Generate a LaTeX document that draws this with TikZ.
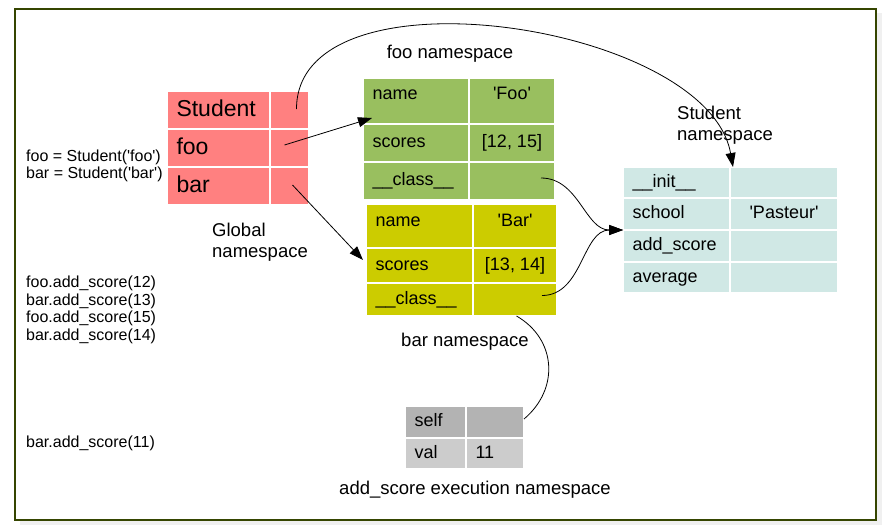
\documentclass[tikz,border=0pt]{standalone}
\usepackage{fontspec}
\setmainfont{Liberation Sans}
\usetikzlibrary{arrows.meta, positioning}

\definecolor{globred}{HTML}{FF8080}
\definecolor{foogreen}{HTML}{99BF5F}
\definecolor{baryellow}{HTML}{CCCC00}
\definecolor{classcyan}{HTML}{D0E8E5}
\definecolor{selfgray}{HTML}{B3B3B3}
\definecolor{valgray}{HTML}{CCCCCC}
\definecolor{frameolive}{HTML}{354500}

\newcommand{\sq}[1]{\textquotesingle#1\textquotesingle}

\begin{document}
\begin{tikzpicture}[
    x=1pt, y=-1pt,
    cell/.style={draw=white, line width=1pt, inner xsep=9pt, inner ysep=0pt,
        text height=13pt, text depth=4pt, font=\fontsize{18}{21}\selectfont},
    key/.style={cell, minimum width=#1, text width=#1-18pt, align=left},
    val/.style={cell, minimum width=#1, align=center},
    glob/.style={fill=globred, minimum height=37pt, text height=17pt, text depth=5pt,
        font=\fontsize{23}{26}\selectfont},
    foons/.style={fill=foogreen, minimum height=#1},
    barns/.style={fill=baryellow, minimum height=#1},
    classns/.style={fill=classcyan, minimum height=#1},
    toprow/.style={text depth=#1},
    lbl/.style={inner sep=0pt, align=left, font=\fontsize{18.5}{21}\selectfont},
    code/.style={inner sep=0pt, anchor=west, align=left, font=\fontsize{16}{17.5}\selectfont},
    link/.style={-{Triangle[length=14pt, width=10pt]}, line width=0.8pt},
    plain/.style={line width=0.8pt}
]
\useasboundingbox (0,0) rectangle (886,528);

% Frame with its shadow
\fill[black!6] (20,13) rectangle (882,525);
\draw[frameolive, line width=1.3pt, fill=white] (15,9) rectangle (876,520);

% Global namespace
\node[key=102pt, glob, anchor=north west] (stuk) at (167,91) {Student};
\node[val=38pt, glob, right=0pt of stuk] (stuv) {};
\node[key=102pt, glob, below=0pt of stuk] (fook) {foo};
\node[val=38pt, glob, right=0pt of fook] (foov) {};
\node[key=102pt, glob, below=0pt of fook] (bark) {bar};
\node[val=38pt, glob, right=0pt of bark] (barv) {};

% foo namespace
\node[key=105pt, foons=45pt, toprow=16pt, anchor=north west] (fnamek) at (363,78) {name};
\node[val=85pt, foons=45pt, toprow=16pt, right=0pt of fnamek] (fnamev) {\sq{Foo}};
\node[key=105pt, foons=37pt, below=0pt of fnamek] (fscok) {scores};
\node[val=85pt, foons=37pt, right=0pt of fscok] (fscov) {[12, 15]};
\node[key=105pt, foons=37pt, below=0pt of fscok] (fclsk) {\_\_class\_\_};
\node[val=85pt, foons=37pt, right=0pt of fclsk] (fclsv) {};

% bar namespace
\node[key=106pt, barns=43pt, toprow=13pt, anchor=north west] (bnamek) at (366,204) {name};
\node[val=83pt, barns=43pt, toprow=13pt, right=0pt of bnamek] (bnamev) {\sq{Bar}};
\node[key=106pt, barns=34pt, below=0pt of bnamek] (bscok) {scores};
\node[val=83pt, barns=34pt, right=0pt of bscok] (bscov) {[13, 14]};
\node[key=106pt, barns=32pt, below=0pt of bscok] (bclsk) {\_\_class\_\_};
\node[val=83pt, barns=32pt, right=0pt of bclsk] (bclsv) {};

% Student namespace
\node[key=106pt, classns=30pt, anchor=north west] (sinitk) at (623,167) {\_\_init\_\_};
\node[val=107pt, classns=30pt, right=0pt of sinitk] (sinitv) {};
\node[key=106pt, classns=31pt, below=0pt of sinitk] (sschk) {school};
\node[val=107pt, classns=31pt, right=0pt of sschk] (sschv) {\sq{Pasteur}};
\node[key=106pt, classns=31pt, below=0pt of sschk] (saddk) {add\_score};
\node[val=107pt, classns=31pt, right=0pt of saddk] (saddv) {};
\node[key=106pt, classns=30pt, below=0pt of saddk] (savgk) {average};
\node[val=107pt, classns=30pt, right=0pt of savgk] (savgv) {};

% add_score execution namespace
\node[key=60pt, fill=selfgray, minimum height=31pt, anchor=north west] (eselfk) at (405,406) {self};
\node[val=57pt, fill=selfgray, minimum height=31pt, right=0pt of eselfk] (eselfv) {};
\node[key=60pt, fill=valgray, minimum height=30pt, below=0pt of eselfk] (evalk) {val};
\node[key=57pt, fill=valgray, minimum height=30pt, right=0pt of evalk] (evalv) {11};

% Labels
\node[lbl] (foolbl) at (450,54) {foo namespace};
\node[lbl, anchor=west] (stulbl) at (677,125) {Student\\namespace};
\node[lbl, anchor=west] (globlbl) at (212,242) {Global\\namespace};
\node[lbl] (barlbl) at (465,342) {bar namespace};
\node[lbl] (execlbl) at (475,490) {add\_score execution namespace};

% Code
\node[code] (create) at (26,166) {foo = Student(\sq{foo})\\bar = Student(\sq{bar})};
\node[code] (calls) at (26,310) {foo.add\_score(12)\\bar.add\_score(13)\\foo.add\_score(15)\\bar.add\_score(14)};
\node[code] (call) at (26,443) {bar.add\_score(11)};

% References
\draw[link] ([xshift=7pt, yshift=1pt]stuv.center) to[out=90, in=100, looseness=0.85] ([xshift=3pt]sinitv.north west);
\draw[link] ([xshift=-5pt, yshift=3pt]foov.center) -- ([xshift=9pt, yshift=6pt]fnamek.south west);
\draw[link] ([xshift=3pt, yshift=1pt]barv.center) -- ([xshift=-3pt, yshift=-12pt]bnamek.south west);
\draw[link] ([xshift=29pt, yshift=3pt]fclsv.center) to[out=0, in=180] (saddk.north west);
\draw[link] ([xshift=27pt, yshift=4pt]bclsv.center) to[out=0, in=180] (saddk.north west);
\draw[plain] ([xshift=1.5pt]bclsv.south) to[out=-30, in=40, looseness=1.15] ([yshift=3pt]eselfv.east);

\end{tikzpicture}
\end{document}
